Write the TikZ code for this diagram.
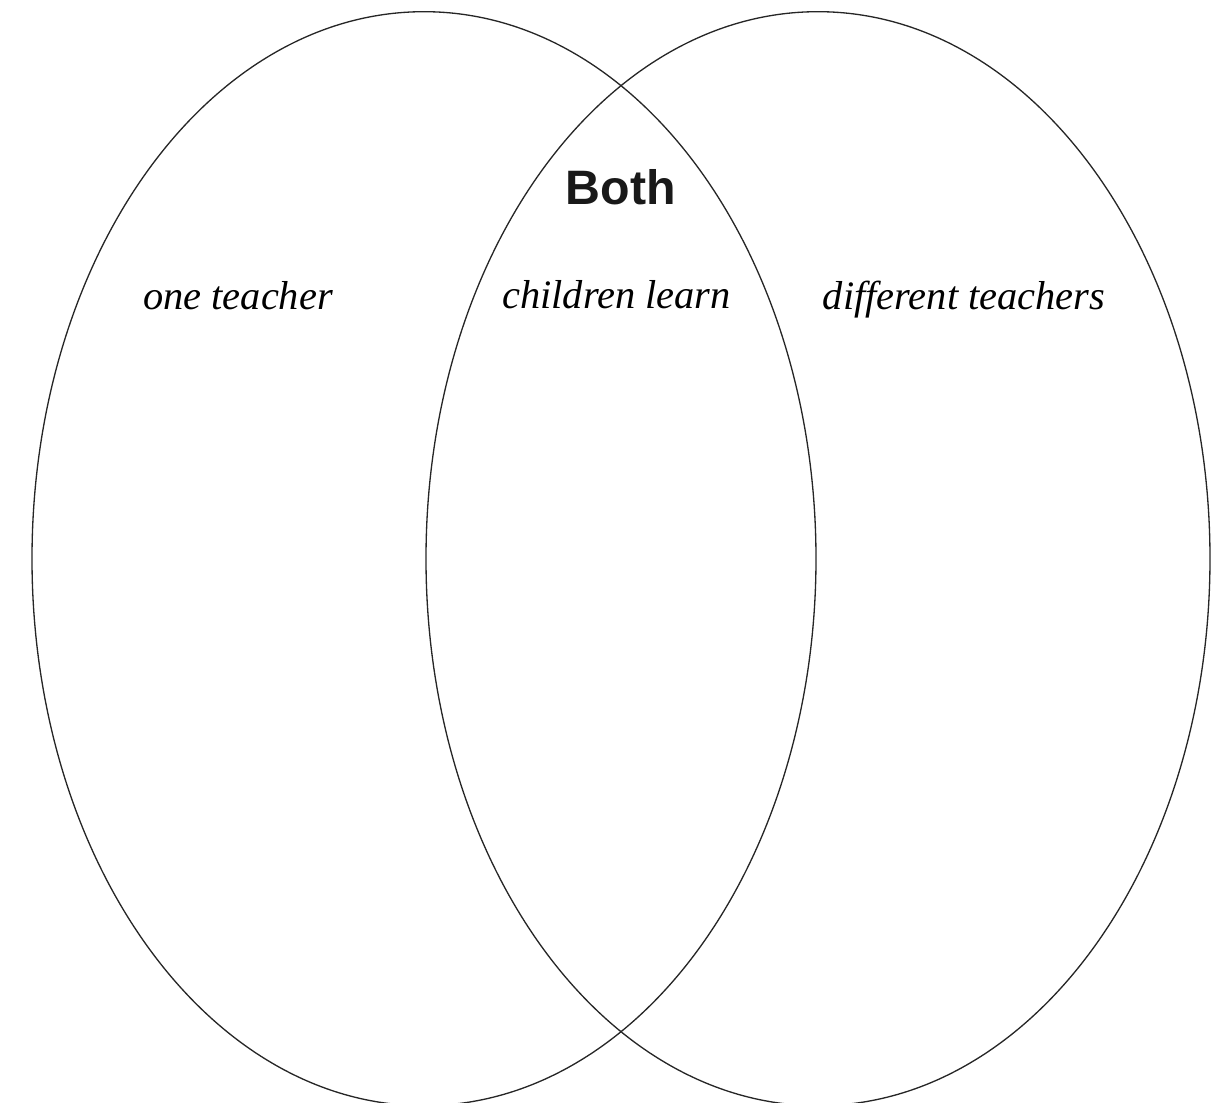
\documentclass[tikz,border=0pt]{standalone}
\usepackage{fontspec}
\setmainfont{Liberation Serif}
\setsansfont{Liberation Sans}
\usepackage{tikz}
\usetikzlibrary{positioning}

\begin{document}
\begin{tikzpicture}[
    x=0.02cm, y=0.02cm,
    setline/.style={draw=black!85, line width=0.75pt},
    setlabel/.style={font=\fontsize{23}{26}\selectfont\itshape, anchor=base, inner sep=0pt},
    headlabel/.style={font=\fontsize{27.5}{30}\selectfont\sffamily\bfseries, anchor=base, inner sep=0pt, text=black!90}
]

\useasboundingbox (0,0) rectangle (1232,1103);
\clip (0,0) rectangle (1232,1103);

\draw[setline] (424,544.3) ellipse [x radius=392, y radius=547];
\draw[setline] (818,544.3) ellipse [x radius=392, y radius=547];

\node[headlabel] (both) at (621,898) {Both};

\node[setlabel] (oneteacher) at (238,793) {one teacher};
\node[setlabel] (childrenlearn) at (616.5,794) {children learn};
\node[setlabel] (diffteachers) at (964,793) {different teachers};

\end{tikzpicture}
\end{document}
